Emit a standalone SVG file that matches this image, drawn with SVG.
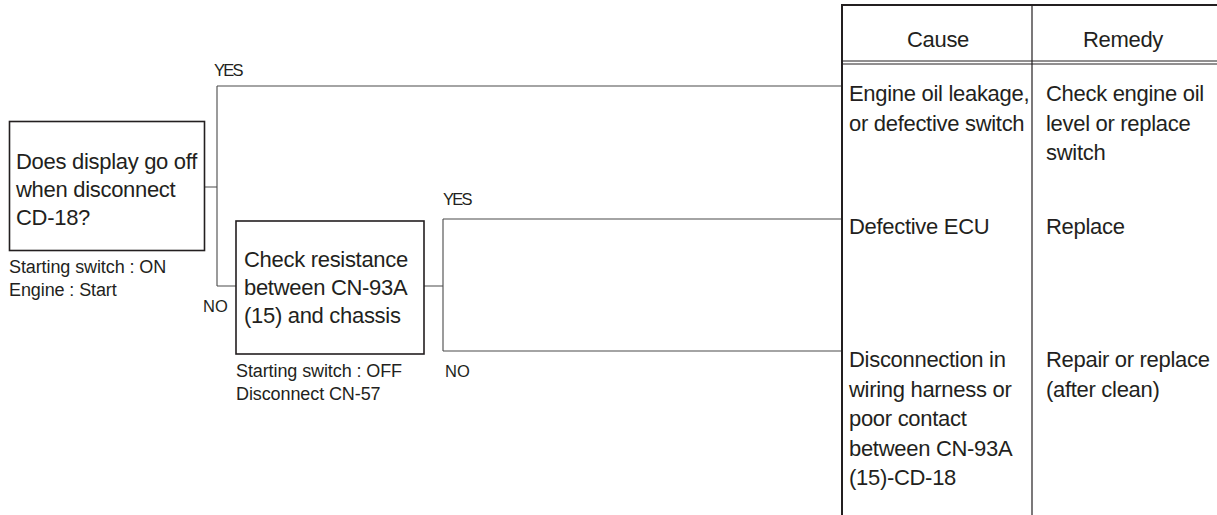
<svg xmlns="http://www.w3.org/2000/svg" width="1217" height="515" viewBox="0 0 1217 515">
<style>
text{font-family:"Liberation Sans",Arial,sans-serif;fill:#231f20}
.m{font-size:22px;letter-spacing:-0.3px}
.s{font-size:18px;letter-spacing:-0.1px}
.l{font-size:16.5px}
.y{letter-spacing:-1.8px}
.box{fill:#fff;stroke:#231f20;stroke-width:1.6}
.c{fill:none;stroke:#4a4a4a;stroke-width:1.1}
.t{stroke:#231f20;fill:none}
</style>
<rect width="1217" height="515" fill="#fff"/>
<g id="connectors">
<path class="c" d="M205,187H217M217,86V286M217,86H842M217,286H236"/>
<path class="c" d="M424,286H443M443,219V351M443,219H842M443,351H842"/>
<text class="l y" x="214" y="76">YES</text>
<text class="l" x="203" y="312">NO</text>
<text class="l y" x="443" y="205">YES</text>
<text class="l" x="445" y="377">NO</text>
</g>
<g id="q1">
<rect class="box" x="9.5" y="121.5" width="195" height="129"/>
<text class="m" x="16" y="169">Does display go off</text>
<text class="m" x="16" y="197">when disconnect</text>
<text class="m" x="16" y="225">CD-18?</text>
<text class="s" x="9" y="273">Starting switch : ON</text>
<text class="s" x="9" y="296">Engine : Start</text>
</g>
<g id="q2">
<rect class="box" x="236" y="221" width="188" height="133"/>
<text class="m" x="244" y="267">Check resistance</text>
<text class="m" x="244" y="295">between CN-93A</text>
<text class="m" x="244" y="323">(15) and chassis</text>
<text class="s" x="236" y="377">Starting switch : OFF</text>
<text class="s" x="236" y="400">Disconnect CN-57</text>
</g>
<g id="table">
<path class="t" stroke-width="2" d="M842,5H1217M842,4V515"/>
<path class="t" stroke-width="1.2" d="M1032,5V515"/>
<path class="t" stroke-width="1" d="M842,61H1217M842,64H1217"/>
<text class="m" x="938" y="47" text-anchor="middle">Cause</text>
<text class="m" x="1123" y="47" text-anchor="middle">Remedy</text>
</g>
<g id="r1">
<text class="m" x="849" y="101">Engine oil leakage,</text>
<text class="m" x="849" y="130.5">or defective switch</text>
<text class="m" x="1046" y="101">Check engine oil</text>
<text class="m" x="1046" y="130.5">level or replace</text>
<text class="m" x="1046" y="160">switch</text>
</g>
<g id="r2">
<text class="m" x="849" y="234">Defective ECU</text>
<text class="m" x="1046" y="234">Replace</text>
</g>
<g id="r3">
<text class="m" x="849" y="367">Disconnection in</text>
<text class="m" x="849" y="396.5">wiring harness or</text>
<text class="m" x="849" y="426">poor contact</text>
<text class="m" x="849" y="455.5">between CN-93A</text>
<text class="m" x="849" y="485">(15)-CD-18</text>
<text class="m" x="1046" y="367">Repair or replace</text>
<text class="m" x="1046" y="396.5">(after clean)</text>
</g>
</svg>
